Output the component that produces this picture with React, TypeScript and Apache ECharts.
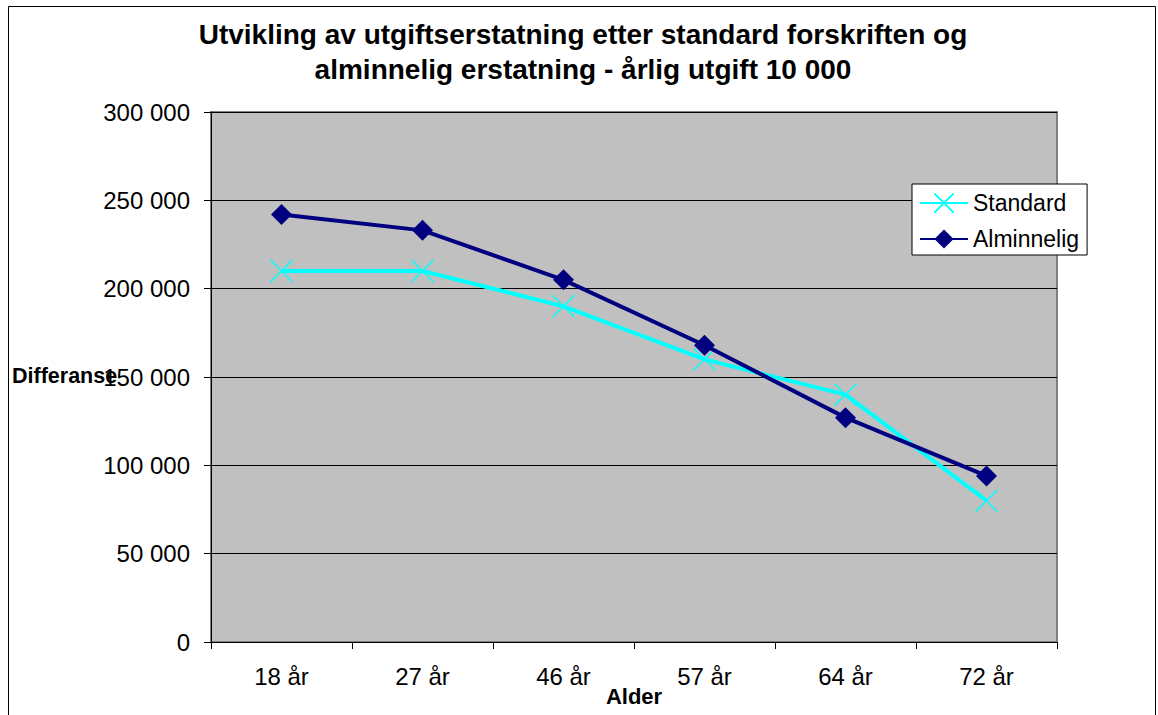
import React, { useEffect, useRef } from "react";
import * as echarts from "echarts";

const categories = ["18 år", "27 år", "46 år", "57 år", "64 år", "72 år"];
const standard = [210000, 210000, 190000, 160000, 140000, 80000];
const alminnelig = [242000, 233000, 205000, 168000, 127000, 94000];
const titleText = "Utvikling av utgiftserstatning etter standard forskriften og\nalminnelig erstatning - årlig utgift 10 000";

const FONT = "Arial, 'Liberation Sans', sans-serif";

const fmt = (v: number) => {
  const s = String(Math.round(v));
  return s.replace(/\B(?=(\d{3})+(?!\d))/g, " ");
};

export default function App() {
  const ref = useRef<HTMLDivElement>(null);
  useEffect(() => {
    document.body.style.margin = "0";
    const chart = echarts.init(ref.current!, null, { renderer: "svg" });
    chart.setOption({
      animation: false,
      backgroundColor: "#ffffff",
      title: {
        text: titleText,
        left: 583,
        textAlign: "center",
        top: 17,
        padding: 0,
        textStyle: { fontFamily: FONT, fontWeight: "bold", fontSize: 28, lineHeight: 35, color: "#000" },
      },
      graphic: [
        { type: "rect", shape: { x: 8.5, y: 6.5, width: 1147, height: 730 }, style: { fill: "none", stroke: "#000", lineWidth: 1 }, silent: true, z: -1 },
        { type: "text", x: 12, y: 376, style: { text: "Differanse", fontFamily: FONT, fontWeight: "bold", fontSize: 21.5, fill: "#000", verticalAlign: "middle", align: "left" }, z: 10 },
      ],
      legend: {
        left: 912,
        top: 184,
        orient: "vertical",
        backgroundColor: "#fff",
        borderColor: "#000",
        borderWidth: 1,
        borderRadius: 0,
        padding: [7, 8, 4, 7],
        itemGap: 12,
        itemWidth: 48,
        itemHeight: 24,
        textStyle: { fontFamily: FONT, fontSize: 23, lineHeight: 24, color: "#000" },
        data: ["Standard", "Alminnelig"],
      },
      grid: {
        left: 211, top: 112, width: 846, height: 530,
        show: true, backgroundColor: "#c0c0c0", borderColor: "#808080", borderWidth: 2,
        containLabel: false,
        outerBoundsMode: "none",
      },
      xAxis: {
        type: "category",
        data: categories,
        boundaryGap: true,
        name: "Alder",
        nameLocation: "middle",
        nameGap: 43,
        nameMoveOverlap: false,
        nameTextStyle: { fontFamily: FONT, fontWeight: "bold", fontSize: 22, color: "#000" },
        axisLine: { show: true, lineStyle: { color: "#000", width: 1 } },
        axisTick: { show: true, length: 7, lineStyle: { color: "#000" } },
        axisLabel: { fontFamily: FONT, fontSize: 24, color: "#000", margin: 22 },
      },
      yAxis: {
        type: "value",
        min: 0, max: 300000, interval: 50000,
        axisLine: { show: true, lineStyle: { color: "#000", width: 1 } },
        axisTick: { show: true, length: 7, lineStyle: { color: "#000" } },
        axisLabel: { fontFamily: FONT, fontSize: 24, color: "#000", margin: 21, formatter: fmt },
        splitLine: { show: true, lineStyle: { color: "#000", width: 1 } },
      },
      series: [
        {
          name: "Standard",
          type: "line",
          data: standard,
          symbol: "path://M0,0L10,10M10,0L0,10",
          symbolSize: 22,
          lineStyle: { color: "#00ffff", width: 4 },
          itemStyle: { color: "#00ffff", borderColor: "#00ffff", borderWidth: 1.5 },
          z: 2,
        },
        {
          name: "Alminnelig",
          type: "line",
          data: alminnelig,
          symbol: "diamond",
          symbolSize: 21,
          lineStyle: { color: "#000080", width: 4 },
          itemStyle: { color: "#000080" },
          z: 3,
        },
      ],
    });
    return () => chart.dispose();
  }, []);
  return <div ref={ref} style={{ width: 1158, height: 715 }} />;
}
